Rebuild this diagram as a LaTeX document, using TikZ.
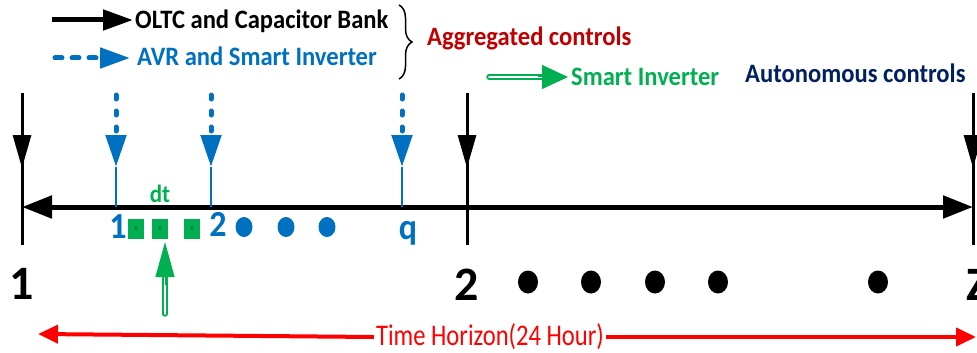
\documentclass[tikz,border=0pt]{standalone}
\usepackage{fontspec}
\setmainfont{Carlito}
\usetikzlibrary{arrows.meta, shapes.geometric, decorations.pathreplacing}
\definecolor{cblue}{HTML}{0070C0}
\definecolor{cgreen}{HTML}{00B050}
\definecolor{cdred}{HTML}{C00000}
\definecolor{cnavy}{HTML}{002060}
\definecolor{cred}{HTML}{FF0000}
\newcommand{\mystretch}[1]{\scalebox{1}[1.08]{#1}}
\begin{document}
\begin{tikzpicture}[x=1pt,y=-1pt,
  lbl/.style={font=\fontsize{24.6}{26}\selectfont\bfseries, inner sep=0pt, anchor=base west},
  bignum/.style={font=\fontsize{48}{50}\selectfont\bfseries, inner sep=0pt, anchor=base},
  bluenum/.style={font=\fontsize{34}{36}\selectfont\bfseries, text=cblue, inner sep=0pt, anchor=base},
  bdot/.style={ellipse, fill=black, minimum width=20pt, minimum height=23pt, inner sep=0pt},
  bludot/.style={ellipse, fill=cblue, minimum width=17pt, minimum height=20pt, inner sep=0pt},
  gsq/.style={fill=cgreen, minimum width=16pt, minimum height=20pt, inner sep=0pt, font=\fontsize{5}{5}\selectfont},
  tick/.style={line width=3pt},
  tickhead/.style={line width=3pt, -{Triangle[length=33pt,width=18pt]}},
  bluedash/.style={cblue, line width=5pt, line cap=round, dash pattern=on 4pt off 12pt, -{Triangle[length=32pt,width=20pt]}},
  bluestem/.style={cblue, line width=2pt},
  gshaft/.style={cgreen, line width=1.8pt, double=white, double distance=1.8pt, line cap=round},
  redarr/.style={cred, line width=4pt, -{Triangle[length=20pt,width=18pt]}},
]
\useasboundingbox (0,0) rectangle (977,353);

% legend
\coordinate (lb1) at (52,20); \coordinate (lb2) at (133,20);
\draw[line width=5pt, -{Triangle[length=30pt,width=20pt]}] (lb1) -- (lb2);
\node[lbl] (oltc) at (135,29) {\mystretch{OLTC and Capacitor Bank}};
\coordinate (lu1) at (55,58); \coordinate (lu2) at (130,58);
\draw[cblue, line width=5pt, line cap=round, dash pattern=on 7pt off 10pt, -{Triangle[length=30pt,width=20pt]}] (lu1) -- (lu2);
\node[lbl, text=cblue] (avr) at (137,66) {\mystretch{AVR and Smart Inverter}};
\coordinate (br1) at (399,5); \coordinate (br2) at (399,79);
\draw[line width=1.5pt, decorate, decoration={brace, amplitude=13pt}] (br1) -- (br2);
\node[lbl, text=cdred] (agg) at (427,46) {\mystretch{Aggregated controls}};
\coordinate (lg1) at (489,77); \coordinate (lg2) at (548,77); \coordinate (lg3) at (538,77); \coordinate (lg4) at (568,77);
\draw[gshaft] (lg1) -- (lg2);
\draw[cgreen, line width=1pt, -{Triangle[length=26pt,width=24pt]}] (lg3) -- (lg4);
\node[lbl, text=cgreen] (si) at (571,85) {\mystretch{Smart Inverter}};
\node[lbl, text=cnavy] (auto) at (745,82) {\mystretch{Autonomous controls}};

% main axis
\coordinate (a1) at (22,207); \coordinate (a2) at (973,207);
\draw[line width=5pt, {Triangle[length=30pt,width=22pt]}-{Triangle[length=30pt,width=22pt]}] (a1) -- (a2);

% black ticks
\foreach \n/\x in {1/22,2/467,3/973}{
  \coordinate (t\n) at (\x,93);
  \coordinate (h\n) at (\x,168);
  \coordinate (b\n) at (\x,245);
  \draw[tick] (t\n) -- (b\n);
  \draw[tickhead] (t\n) -- (h\n);
}

% blue ticks
\foreach \n/\x in {1/116,2/211,3/402}{
  \coordinate (qt\n) at (\x,95);
  \coordinate (qh\n) at (\x,167);
  \coordinate (qa\n) at (\x,207);
  \draw[bluedash] (qt\n) -- (qh\n);
  \draw[bluestem] (qh\n) -- (qa\n);
}

% blue labels
\node[bluenum] (n1) at (118,238) {\mystretch{1}};
\node[bluenum] (n2) at (218,236) {\mystretch{2}};
\node[bluenum] (nq) at (408,239) {\mystretch{q}};
\node[bludot] (d1) at (244,227) {};
\node[bludot] (d2) at (286,227) {};
\node[bludot] (d3) at (327,227) {};

% green
\node[gsq] (s1) at (136,229) {1};
\node[gsq] (s2) at (160,229) {1};
\node[gsq] (s3) at (192,229) {1};
\node[font=\fontsize{23}{24}\selectfont\bfseries, text=cgreen, inner sep=0pt, anchor=base] (dt) at (160,202) {\mystretch{dt}};
\coordinate (ga1) at (165,314); \coordinate (ga2) at (165,272); \coordinate (ga3) at (165,285); \coordinate (ga4) at (165,242);
\draw[gshaft] (ga1) -- (ga2);
\draw[cgreen, line width=1pt, -{Triangle[length=35pt,width=19pt]}] (ga3) -- (ga4);

% black labels
\node[bignum] (m1) at (22,299) {1};
\node[bignum] (m2) at (467,300) {2};
\node[bignum] (mz) at (978,300) {Z};
\foreach \n/\x in {1/528,2/591,3/655,4/718,5/878}{
  \node[bdot] (k\n) at (\x,282) {};
}

% time horizon
\node[font=\fontsize{30}{30}\selectfont, text=cred, inner sep=2pt] (th) at (490,337) {\scalebox{0.82}[1]{Time Horizon(24 Hour)}};
\coordinate (lt) at (38,334); \coordinate (rt) at (976,337);
\draw[redarr] (th.west) -- (lt);
\draw[redarr] (th.east) -- (rt);
\end{tikzpicture}
\end{document}
